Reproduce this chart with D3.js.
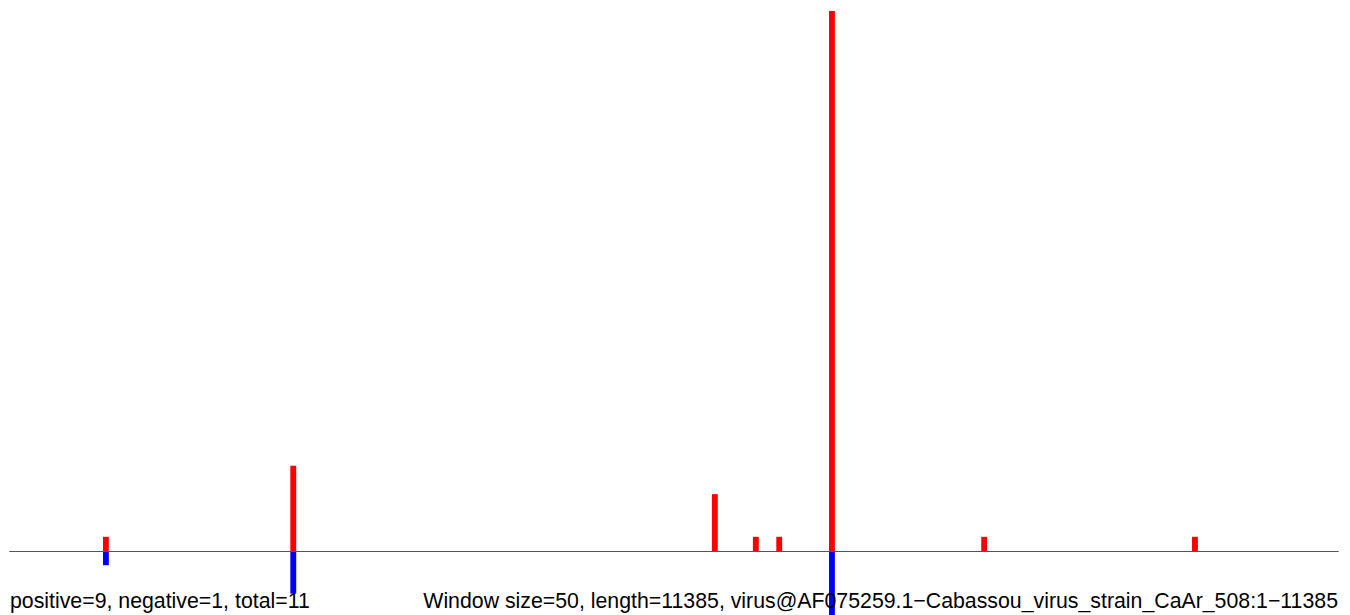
<!DOCTYPE html>
<html>
<head>
<meta charset="utf-8">
<script src="https://cdn.jsdelivr.net/npm/d3@7"></script>
<style>
body { margin: 0; background: #fff; }
text { font-family: "Liberation Sans", Arial, sans-serif; }
</style>
</head>
<body>
<script>
// window start positions (nt) and counts per window
var seqLength = 11385;
var windowSize = 50;
var posStarts = [800, 2400, 6000, 6350, 6550, 7000, 8300, 10100];
var posCounts = [1, 6, 4, 1, 1, 38, 1, 1];
var negStarts = [800, 2400, 7000];
var negCounts = [1, 3, 5];
var leftLabel = "positive=9, negative=1, total=11";
var rightLabel = "Window size=50, length=11385, virus@AF075259.1\u2212Cabassou_virus_strain_CaAr_508:1\u221211385";

var width = 1350, height = 615;
var svg = d3.select("body").append("svg").attr("width", width).attr("height", height);

var x = d3.scaleLinear().domain([0, seqLength]).range([9.3, 1342.5]);
var y = d3.scaleLinear().domain([-38, 38]).range([551 + 540, 551 - 540]); // baseline at 551

// positive bars (red, up)
svg.selectAll("rect.pos")
  .data(posStarts)
  .enter().append("rect")
  .attr("class", "pos")
  .attr("x", function(d) { return x(d); })
  .attr("width", function(d) { return x(d + windowSize) - x(d); })
  .attr("y", function(d, i) { return y(posCounts[i]); })
  .attr("height", function(d, i) { return y(0) - y(posCounts[i]); })
  .attr("fill", "#ff0000");

// negative bars (blue, down)
svg.selectAll("rect.neg")
  .data(negStarts)
  .enter().append("rect")
  .attr("class", "neg")
  .attr("x", function(d) { return x(d); })
  .attr("width", function(d) { return x(d + windowSize) - x(d); })
  .attr("y", y(0))
  .attr("height", function(d, i) { return y(-negCounts[i]) - y(0); })
  .attr("fill", "#0000ff");

// baseline
svg.append("line")
  .attr("x1", x(0)).attr("x2", 1338.7)
  .attr("y1", y(0) + 0.5).attr("y2", y(0) + 0.5)
  .attr("stroke", "#555").attr("stroke-width", 1);

svg.append("text")
  .attr("x", 10).attr("y", 608)
  .attr("font-size", "21.3px")
  .attr("fill", "#000")
  .text(leftLabel);

svg.append("text")
  .attr("x", 1338).attr("y", 608)
  .attr("text-anchor", "end")
  .attr("font-size", "21.3px")
  .attr("fill", "#000")
  .text(rightLabel);
</script>
</body>
</html>
